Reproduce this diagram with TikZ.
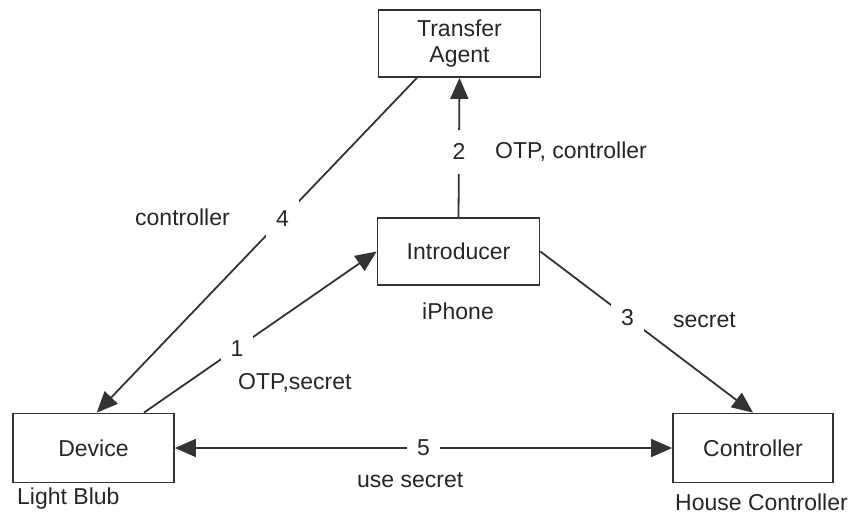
\documentclass[tikz,border=0pt]{standalone}
\usepackage{fontspec}
\setmainfont{Liberation Sans}
\usetikzlibrary{arrows.meta,calc}
\begin{document}
\begin{tikzpicture}[x=1pt,y=-1pt,
  every node/.style={font=\fontsize{23}{26}\selectfont, text=black!85},
  box/.style={draw=black!80, line width=1.8pt, minimum width=162pt, minimum height=67pt, inner sep=0pt, align=center},
  conn/.style={draw=black!80, line width=1.8pt, -{Triangle[length=21pt,width=18pt]}},
  num/.style={fill=white, inner xsep=10pt, inner ysep=14pt},
  lbl/.style={anchor=west, inner sep=0pt}]
\useasboundingbox (0,0) rectangle (853,515);
\node[box] (ta) at (459.5,43.5) {Transfer\\Agent};
\node[box] (intro) at (458.5,251.5) {Introducer};
\node[box, minimum width=161pt, minimum height=69pt] (dev) at (93.5,448) {Device};
\node[box, minimum width=160pt, minimum height=69pt] (ctrl) at (753,448) {Controller};
\coordinate (taout) at ($(ta.south west)!0.24!(ta.south east)$);
\coordinate (devin) at ($(dev.north west)!0.52!(dev.north east)$);
\coordinate (devout) at ($(dev.north west)!0.81!(dev.north east)$);
% edges
\draw[conn] (intro.north) -- node[num, pos=0.47] (n2) {2} (ta.south);
\draw[conn] (taout) -- node[num, pos=0.42] (n4) {4} (devin);
\draw[conn] (devout) -- node[num, pos=0.40] (n1) {1} (intro.west);
\draw[conn] (intro.east) -- node[num, pos=0.41] (n3) {3} (ctrl.north);
\draw[conn, {Triangle[length=21pt,width=18pt]}-{Triangle[length=21pt,width=18pt]}] (dev.east) -- node[num, pos=0.5] (n5) {5} (ctrl.west);
% labels
\node[lbl] (l2) at (495,152) {OTP, controller};
\node[lbl] (l4) at (135,217) {controller};
\node[lbl] (l1) at (238,383) {OTP,secret};
\node[lbl] (l3) at (673,320) {secret};
\node[lbl] (l5) at (357,480) {use secret};
\node[lbl] (iph) at (422,311) {iPhone};
\node[lbl] (lb) at (17,499) {Light Blub};
\node[lbl] (hc) at (675,502) {House Controller};
\end{tikzpicture}
\end{document}
